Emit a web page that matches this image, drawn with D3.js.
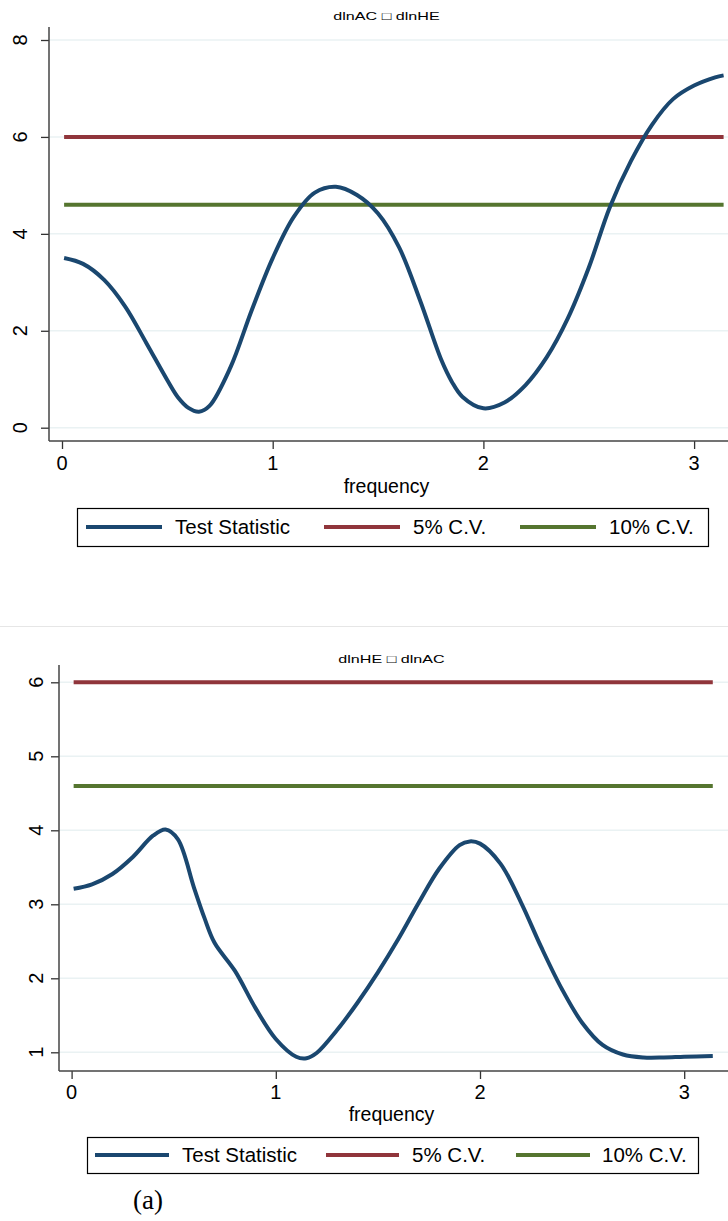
<!DOCTYPE html>
<html>
<head>
<meta charset="utf-8">
<script src="https://cdn.jsdelivr.net/npm/d3@7"></script>
<style>
  body { margin: 0; background: #fff; }
  text { font-family: "Liberation Sans", Arial, sans-serif; fill: #000; }
</style>
</head>
<body>
<svg id="chart"></svg>
<script>
//CANVAS
var w = 728;
var h = 1221;

var svg = d3.select("#chart")
     .attr("width", w)
     .attr("height", h)
     .style("background-color", "white");

//DATA
var freqTop = [0.01, 0.1, 0.2, 0.3, 0.4, 0.5, 0.55, 0.6, 0.65, 0.7, 0.8, 0.9, 1.0, 1.1, 1.2, 1.3, 1.4, 1.5, 1.6, 1.7, 1.8, 1.85, 1.9, 2.0, 2.1, 2.2, 2.3, 2.4, 2.5, 2.6, 2.7, 2.8, 2.9, 3.0, 3.1, 3.14];
var statTop = [3.50, 3.38, 3.05, 2.50, 1.75, 0.98, 0.63, 0.41, 0.33, 0.45, 1.25, 2.42, 3.50, 4.35, 4.85, 4.97, 4.80, 4.42, 3.72, 2.62, 1.40, 0.95, 0.64, 0.40, 0.52, 0.88, 1.45, 2.25, 3.30, 4.55, 5.50, 6.25, 6.78, 7.06, 7.23, 7.27];

var freqBottom = [0.01, 0.1, 0.2, 0.3, 0.4, 0.46, 0.52, 0.6, 0.65, 0.7, 0.8, 0.9, 1.0, 1.1, 1.15, 1.2, 1.3, 1.4, 1.5, 1.6, 1.7, 1.8, 1.9, 1.95, 2.0, 2.1, 2.2, 2.3, 2.4, 2.5, 2.6, 2.7, 2.8, 2.9, 3.0, 3.14];
var statBottom = [3.21, 3.27, 3.41, 3.64, 3.93, 4.01, 3.88, 3.22, 2.82, 2.48, 2.10, 1.60, 1.18, 0.94, 0.92, 0.99, 1.30, 1.67, 2.08, 2.53, 3.02, 3.48, 3.80, 3.85, 3.82, 3.55, 3.03, 2.42, 1.86, 1.40, 1.10, 0.97, 0.93, 0.93, 0.94, 0.95];

var cv5 = 6;
var cv10 = 4.6;

var xTicks = [0, 1, 2, 3];
var yTicksTop = [0, 2, 4, 6, 8];
var yTicksBottom = [1, 2, 3, 4, 5, 6];

var titles = ["dlnAC \u25A1 dlnHE", "dlnHE \u25A1 dlnAC"];
var legendLabels = ["Test Statistic", "5% C.V.", "10% C.V."];
var colors = ["#1a476f", "#90353b", "#55752f"];

//PANEL LAYOUTS
var panels = [
  {
    freq: freqTop, stat: statTop, title: titles[0], yTicks: yTicksTop,
    xDomain: [0, 3], xRange: [62, 694.1],
    yDomain: [0, 8], yRange: [427.7, 40],
    axisX: 49, axisTop: 27, axisY: 441,
    titleY: 20, yLabelX: 27, xLabelY: 470, xTitleY: 493,
    legend: { x0: 77, x1: 708, y0: 508, y1: 546, items: [[86, 162, 175], [324, 400, 413], [520, 596, 609]] }
  },
  {
    freq: freqBottom, stat: statBottom, title: titles[1], yTicks: yTicksBottom,
    xDomain: [0, 3], xRange: [71.6, 684.2],
    yDomain: [1, 6], yRange: [1052.3, 682.3],
    axisX: 59, axisTop: 665, axisY: 1071,
    titleY: 663, yLabelX: 43, xLabelY: 1099, xTitleY: 1121,
    legend: { x0: 87, x1: 698, y0: 1137, y1: 1173, items: [[95, 169, 182], [326, 399, 412], [516, 590, 602]] }
  }
];

//separator between the two graphs
svg.append("line")
     .attr("x1", 0).attr("x2", w)
     .attr("y1", 626.5).attr("y2", 626.5)
     .attr("stroke", "#e6e6e6")
     .attr("stroke-width", 1);

panels.forEach(drawPanel);

function drawPanel(p) {
  var xScale = d3.scaleLinear().domain(p.xDomain).range(p.xRange);
  var yScale = d3.scaleLinear().domain(p.yDomain).range(p.yRange);
  var g = svg.append("g");

  //title (stretched sideways like the original)
  var cx = (p.axisX + w) / 2 - 2;
  g.append("text")
       .attr("transform", "translate(" + cx + "," + p.titleY + ") scale(1.4,1)")
       .attr("text-anchor", "middle")
       .style("font-size", "11.5px")
       .text(p.title);

  //grid lines
  g.selectAll(".grid")
       .data(p.yTicks)
       .enter()
       .append("line")
       .attr("x1", p.axisX).attr("x2", w)
       .attr("y1", d => yScale(d)).attr("y2", d => yScale(d))
       .attr("stroke", "#eaf2f3")
       .attr("stroke-width", 1.5);

  //y axis
  var yAxis = d3.axisLeft(yScale)
       .tickValues(p.yTicks)
       .tickSize(8)
       .tickFormat("");
  var ya = g.append("g")
       .attr("transform", "translate(" + p.axisX + ",0)")
       .call(yAxis);
  ya.select(".domain").remove();
  ya.selectAll(".tick line").attr("stroke", "#333").attr("stroke-width", 1.3);
  g.append("line")
       .attr("x1", p.axisX).attr("x2", p.axisX)
       .attr("y1", p.axisTop).attr("y2", p.axisY)
       .attr("stroke", "#444").attr("stroke-width", 1.5);

  g.selectAll(".ylab")
       .data(p.yTicks)
       .enter()
       .append("text")
       .attr("transform", d => "translate(" + p.yLabelX + "," + yScale(d) + ") rotate(-90)")
       .attr("text-anchor", "middle")
       .style("font-size", "20px")
       .text(d => d);

  //x axis
  var xAxis = d3.axisBottom(xScale)
       .tickValues(xTicks)
       .tickSize(8)
       .tickFormat("");
  var xa = g.append("g")
       .attr("transform", "translate(0," + p.axisY + ")")
       .call(xAxis);
  xa.select(".domain").remove();
  xa.selectAll(".tick line").attr("stroke", "#333").attr("stroke-width", 1.3);
  g.append("line")
       .attr("x1", p.axisX).attr("x2", w)
       .attr("y1", p.axisY).attr("y2", p.axisY)
       .attr("stroke", "#444").attr("stroke-width", 1.5);

  g.selectAll(".xlab")
       .data(xTicks)
       .enter()
       .append("text")
       .attr("x", d => xScale(d))
       .attr("y", p.xLabelY)
       .attr("text-anchor", "middle")
       .style("font-size", "20px")
       .text(d => d);

  g.append("text")
       .attr("x", cx)
       .attr("y", p.xTitleY)
       .attr("text-anchor", "middle")
       .style("font-size", "19.5px")
       .text("frequency");

  //critical value lines
  var fMin = d3.min(p.freq), fMax = d3.max(p.freq);
  [cv5, cv10].forEach(function (v, i) {
    g.append("line")
         .attr("x1", xScale(fMin)).attr("x2", xScale(fMax))
         .attr("y1", yScale(v)).attr("y2", yScale(v))
         .attr("stroke", colors[i + 1])
         .attr("stroke-width", 4);
  });

  //test statistic
  var lineMaker = d3.line()
       .curve(d3.curveCatmullRom.alpha(0.5))
       .x((d, i) => xScale(p.freq[i]))
       .y(d => yScale(d));

  g.append("path")
       .attr("d", lineMaker(p.stat))
       .attr("stroke", colors[0])
       .attr("stroke-width", 4)
       .attr("stroke-linejoin", "round")
       .attr("fill", "none");

  //legend
  var L = p.legend;
  var ly = (L.y0 + L.y1) / 2;
  g.append("rect")
       .attr("x", L.x0 + 0.5).attr("y", L.y0 + 0.5)
       .attr("width", L.x1 - L.x0).attr("height", L.y1 - L.y0)
       .attr("fill", "white")
       .attr("stroke", "#000")
       .attr("stroke-width", 1.2);
  L.items.forEach(function (it, i) {
    g.append("line")
         .attr("x1", it[0]).attr("x2", it[1])
         .attr("y1", ly).attr("y2", ly)
         .attr("stroke", colors[i])
         .attr("stroke-width", 4);
    g.append("text")
         .attr("x", it[2])
         .attr("y", ly + 7)
         .style("font-size", "20.5px")
         .text(legendLabels[i]);
  });
}

//panel label
svg.append("text")
     .attr("x", 133)
     .attr("y", 1209)
     .style("font-family", "'Liberation Serif', 'Times New Roman', serif")
     .style("font-size", "27px")
     .text("(a)");
</script>
</body>
</html>
